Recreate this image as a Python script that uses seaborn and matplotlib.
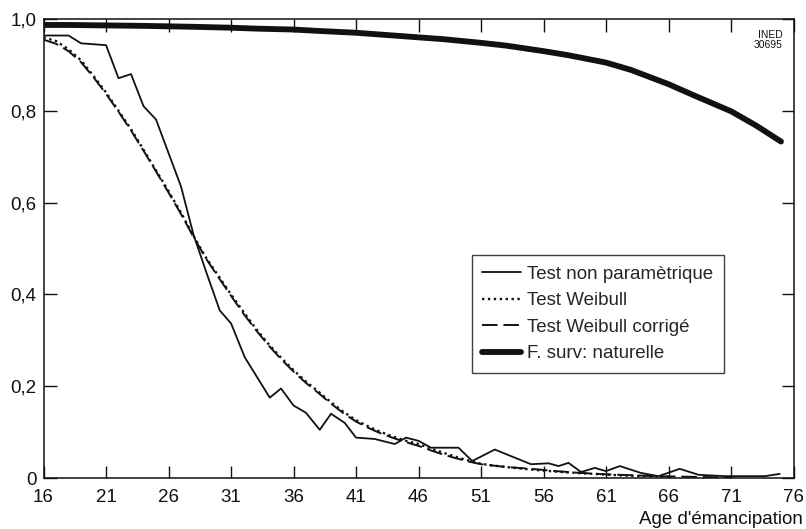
import numpy as np
import pandas as pd
import matplotlib
matplotlib.use("Agg")
import matplotlib.pyplot as plt
import seaborn as sns

# ---- data ----
np_age = [16, 18, 19, 21, 22, 23, 24, 25, 27, 28, 29, 30.1, 31, 32.1, 34.1, 35,
          36, 37, 38.1, 39, 40.1, 41, 42.5, 44.1, 45, 46, 47, 49.2, 50.3, 52.1,
          55, 56.4, 57.2, 58, 59, 60.1, 61, 62.1, 63.8, 65.2, 66.9, 68.4, 70.5,
          73.7, 74.9]
np_surv = [0.964, 0.964, 0.947, 0.943, 0.871, 0.880, 0.810, 0.781, 0.635, 0.530,
           0.450, 0.365, 0.337, 0.263, 0.175, 0.195, 0.158, 0.142, 0.105, 0.140,
           0.120, 0.088, 0.085, 0.074, 0.088, 0.081, 0.066, 0.066, 0.037, 0.062,
           0.030, 0.032, 0.026, 0.033, 0.013, 0.022, 0.015, 0.026, 0.011, 0.004,
           0.020, 0.007, 0.004, 0.004, 0.009]

wb_age = [16, 17, 18, 19, 20, 21, 22, 23, 24, 25, 26, 27, 28, 29, 30, 31, 32, 33,
          34, 35, 36, 37, 38, 39, 40, 41, 42, 43, 44, 45, 46, 47, 48, 49, 50, 51,
          52, 54, 56, 58, 60, 62, 64, 66]
wb_surv = [0.960, 0.952, 0.934, 0.910, 0.876, 0.840, 0.800, 0.760, 0.715, 0.670,
           0.625, 0.578, 0.527, 0.480, 0.440, 0.400, 0.362, 0.325, 0.292, 0.262,
           0.235, 0.210, 0.188, 0.165, 0.144, 0.126, 0.112, 0.100, 0.090, 0.081,
           0.074, 0.064, 0.055, 0.046, 0.038, 0.031, 0.027, 0.021, 0.016, 0.012,
           0.009, 0.006, 0.004, 0.003]

wbc_age = [16, 17, 18, 19, 20, 21, 22, 23, 24, 25, 26, 27, 28, 29, 30, 31, 32, 33,
           34, 35, 36, 37, 38, 39, 40, 41, 42, 43, 44, 45, 46, 47, 48, 49, 50, 51,
           53, 55, 57, 59, 61, 63, 65, 67, 69, 71]
wbc_surv = [0.955, 0.946, 0.930, 0.906, 0.873, 0.837, 0.798, 0.757, 0.713, 0.668,
            0.622, 0.575, 0.525, 0.478, 0.437, 0.397, 0.358, 0.322, 0.289, 0.259,
            0.232, 0.207, 0.185, 0.162, 0.141, 0.123, 0.109, 0.097, 0.087, 0.078,
            0.070, 0.060, 0.051, 0.043, 0.036, 0.030, 0.024, 0.020, 0.015, 0.011,
            0.008, 0.006, 0.004, 0.003, 0.002, 0.001]

nat_age = [16, 18, 21, 24, 26, 28, 31, 33, 36, 38, 41, 43, 46, 48, 51, 53, 56, 58,
           61, 63, 66, 68, 71, 73, 75]
nat_surv = [0.987, 0.987, 0.986, 0.985, 0.984, 0.983, 0.981, 0.979, 0.977, 0.974,
            0.970, 0.966, 0.960, 0.956, 0.948, 0.942, 0.930, 0.921, 0.905, 0.889,
            0.858, 0.834, 0.799, 0.768, 0.733]

x_ticks = [16, 21, 26, 31, 36, 41, 46, 51, 56, 61, 66, 71, 76]
y_ticks = [0, 0.2, 0.4, 0.6, 0.8, 1.0]
y_labels = ["0", "0,2", "0,4", "0,6", "0,8", "1,0"]

# ---- style ----
sns.set_style("ticks")
plt.rcParams["font.family"] = ["Liberation Sans", "DejaVu Sans"]
ink = "#111111"

fig = plt.figure(figsize=(8.06, 5.29), dpi=100)
ax = fig.add_axes([0.054, 0.0964, 0.9305, 0.8677])

sns.lineplot(x=np_age, y=np_surv, ax=ax, color=ink, lw=1.3,
             label="Test non paramètrique")
sns.lineplot(x=wb_age, y=wb_surv, ax=ax, color=ink, lw=1.7,
             linestyle=(0, (1, 1.5)), label="Test Weibull")
sns.lineplot(x=wbc_age, y=wbc_surv, ax=ax, color=ink, lw=1.4,
             linestyle=(0, (8, 3)), label="Test Weibull corrigé")
sns.lineplot(x=nat_age, y=nat_surv, ax=ax, color=ink, lw=4.2,
             label="F. surv: naturelle")

ax.set_xlim(16, 76)
ax.set_ylim(0, 1.0)
ax.set_xticks(x_ticks)
ax.set_yticks(y_ticks)
ax.set_yticklabels(y_labels)
ax.set_xlabel("")
ax.set_ylabel("")
ax.tick_params(direction="in", top=True, right=True, length=9, width=1,
               colors=ink, labelsize=13.5)
ax.tick_params(axis="x", pad=8)
ax.tick_params(axis="y", pad=5)
for s in ax.spines.values():
    s.set_linewidth(1.1)
    s.set_color(ink)

leg = ax.legend(loc="upper left", bbox_to_anchor=(0.571, 0.485),
                borderaxespad=0, frameon=True, fancybox=False, fontsize=13.5,
                handlelength=2.1, handletextpad=0.3, labelspacing=0.5,
                borderpad=0.55)
leg.get_frame().set_edgecolor(ink)
leg.get_frame().set_linewidth(1.0)

ax.text(0.985, 0.975, "INED\n30695", transform=ax.transAxes, ha="right",
        va="top", fontsize=7.5, linespacing=1.0, color=ink,
        family=["Liberation Sans Narrow", "Liberation Sans"])

fig.text(0.996, 1 - 520 / 529, "Age d'émancipation", ha="right", va="center",
         fontsize=13.5, color=ink)

fig.savefig("out.png", dpi=100)
